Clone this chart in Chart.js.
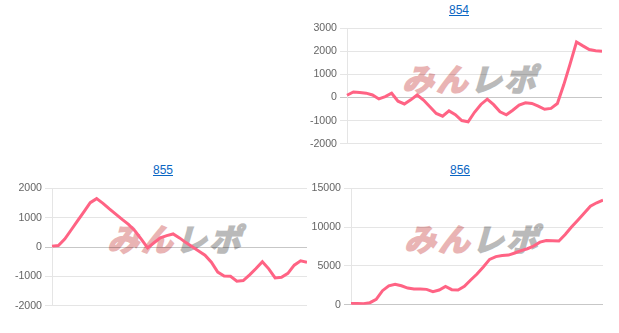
<!DOCTYPE html>
<html>
<head>
<meta charset="utf-8">
<script src="https://cdn.jsdelivr.net/npm/chart.js@4/dist/chart.umd.min.js"></script>
<style>
  body { margin: 0; width: 619px; height: 333px; background: #fff; position: relative; overflow: hidden;
         font-family: "Liberation Sans", Arial, sans-serif; }
  .ttl { position: absolute; font-size: 12px; color: #0b66c3; text-decoration: underline; transform: translateX(-50%); }
  .wm { position: absolute; font-family: "Noto Sans CJK JP", sans-serif; font-weight: bold; font-size: 31px;
        letter-spacing: 3px; line-height: 1; white-space: nowrap; transform: translateX(-50%) skewX(-16deg); }
  .wm .a { color: #e9b4b4; -webkit-text-stroke: 2px #e9b4b4; }
  .wm .b { color: #bababa; -webkit-text-stroke: 2px #bababa; }
  .box { position: absolute; }
</style>
</head>
<body>

<a class="ttl" href="#" style="left:459px;top:3px">854</a>
<div class="wm" style="left:474px;top:62px"><span class="a">みん</span><span class="b">レポ</span></div>
<div class="box" style="left:309px;top:19px;width:293px;height:134px"><canvas id="c854"></canvas></div>

<a class="ttl" href="#" style="left:163px;top:163px">855</a>
<div class="wm" style="left:179px;top:222px"><span class="a">みん</span><span class="b">レポ</span></div>
<div class="box" style="left:14px;top:179px;width:293px;height:136px"><canvas id="c855"></canvas></div>

<a class="ttl" href="#" style="left:460px;top:163px">856</a>
<div class="wm" style="left:476px;top:222px"><span class="a">みん</span><span class="b">レポ</span></div>
<div class="box" style="left:310px;top:179px;width:293px;height:135px"><canvas id="c856"></canvas></div>

<script>
// 差枚推移（41点）
const games = Array.from({ length: 41 }, (_, i) => String(i + 1));

const data854 = [100, 240, 220, 190, 110, -60, 40, 185, -160, -280, -100, 110, -110, -400, -690, -810, -580, -740, -1000, -1050,
                 -640, -300, -70, -310, -620, -750, -550, -325, -225, -255, -370, -510, -470, -260, 550, 1460, 2410, 2240, 2080, 2025, 2010];
const data855 = [30, 50, 270, 580, 890, 1200, 1510, 1650, 1490, 1300, 1120, 940, 770, 555, 270, -30, 145, 310, 390, 445,
                 310, 150, 5, -135, -280, -520, -855, -990, -1000, -1165, -1145, -950, -735, -500, -745, -1055, -1035, -900, -620, -470, -520];
const data856 = [150, 150, 130, 250, 670, 1800, 2430, 2640, 2430, 2140, 2010, 2010, 1970, 1680, 1890, 2350, 1930, 1890, 2350, 3180,
                 3950, 4860, 5840, 6200, 6330, 6390, 6660, 6960, 7210, 7560, 8060, 8280, 8250, 8210, 9050, 10010, 10900, 11800, 12700, 13140, 13490];

// y軸の範囲
const range854 = { min: -2000, max: 3000, step: 1000 };
const range855 = { min: -2000, max: 2000, step: 1000 };
const range856 = { min: 0, max: 15000, step: 5000 };

function drawChart(id, values, range, axisWidth) {
    const ctx = document.getElementById(id).getContext('2d');
    new Chart(ctx, {
        type: 'line',
        data: {
            labels: games,
            datasets: [{
                data: values,
                borderColor: 'rgb(255, 99, 132)',
                backgroundColor: 'rgb(255, 99, 132)',
                borderWidth: 3,
                pointRadius: 0,
                tension: 0,
                fill: false
            }]
        },
        options: {
            responsive: true,
            maintainAspectRatio: false,
            animation: false,
            layout: { padding: { top: 8, bottom: 8, left: 0, right: 0 } },
            plugins: { legend: { display: false }, tooltip: { enabled: false } },
            scales: {
                x: { display: false },
                y: {
                    min: range.min,
                    max: range.max,
                    ticks: {
                        stepSize: range.step,
                        color: '#666',
                        padding: 3,
                        font: { size: 10.6, family: 'Liberation Sans, Arial, sans-serif' },
                        callback: v => String(v)
                    },
                    grid: {
                        tickLength: 7,
                        color: c => (c.tick && c.tick.value === 0) ? 'rgba(0,0,0,0.22)' : 'rgba(0,0,0,0.1)'
                    },
                    border: { color: 'rgba(0,0,0,0.1)' },
                    afterFit: s => { s.width = axisWidth; }
                }
            }
        }
    });
}

drawChart('c854', data854, range854, 38);
drawChart('c855', data855, range855, 38);
drawChart('c856', data856, range856, 41);
</script>
</body>
</html>
